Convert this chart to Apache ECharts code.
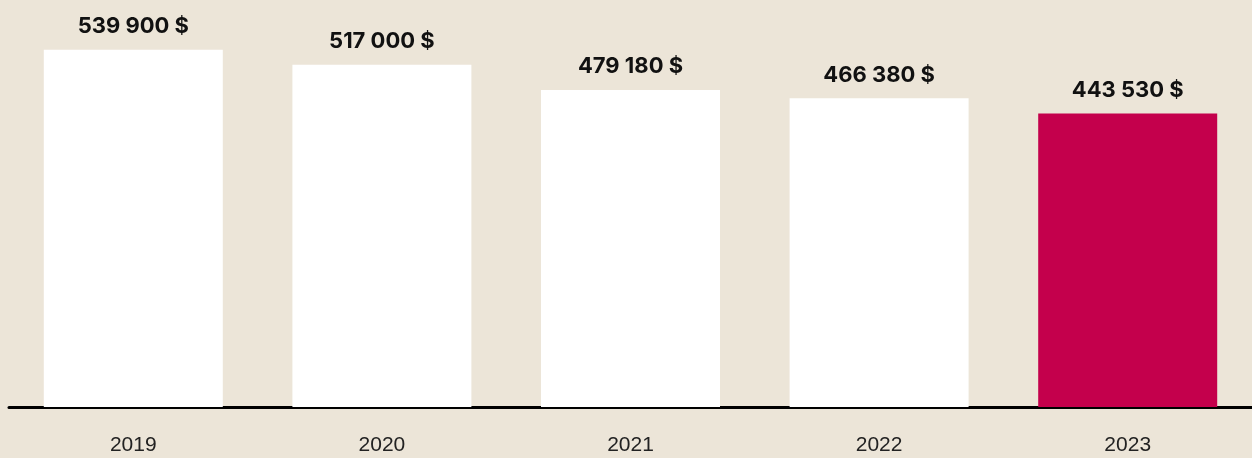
<!DOCTYPE html>
<html>
<head>
<meta charset="utf-8">
<script src="https://cdn.jsdelivr.net/npm/echarts@6/dist/echarts.min.js"></script>
<style>
  html, body { margin: 0; padding: 0; background: #ece5d8; }
  #chart { width: 1252px; height: 458px; }
</style>
</head>
<body>
<div id="chart"></div>
<script>
  // years and median prices
  const years = ['2019', '2020', '2021', '2022', '2023'];
  const prices = [539900, 517000, 479180, 466380, 443530];
  const highlightYear = '2023';

  const fmt = v => String(v).replace(/\B(?=(\d{3})+(?!\d))/g, ' ') + ' $';

  const chart = echarts.init(document.getElementById('chart'));
  chart.setOption({
    backgroundColor: '#ece5d8',
    animation: false,
    grid: { left: 9, right: -2, top: 0, bottom: 51 },
    xAxis: {
      type: 'category',
      data: years,
      axisTick: { show: false },
      axisLine: { lineStyle: { color: '#000', width: 3 } },
      axisLabel: {
        color: '#222',
        fontFamily: 'Liberation Sans, Arial, sans-serif',
        fontSize: 21,
        margin: 28
      }
    },
    yAxis: {
      type: 'value',
      min: 0,
      max: 615000,
      show: false,
      splitLine: { show: false }
    },
    series: [{
      type: 'bar',
      barWidth: 179,
      data: prices.map((v, i) => ({
        value: v,
        itemStyle: { color: years[i] === highlightYear ? '#c4004c' : '#ffffff' }
      })),
      label: {
        show: true,
        position: 'top',
        distance: 12,
        color: '#111',
        fontFamily: 'Inter, sans-serif',
        fontWeight: 700,
        fontSize: 22,
        formatter: p => fmt(p.value)
      }
    }]
  });
</script>
</body>
</html>
